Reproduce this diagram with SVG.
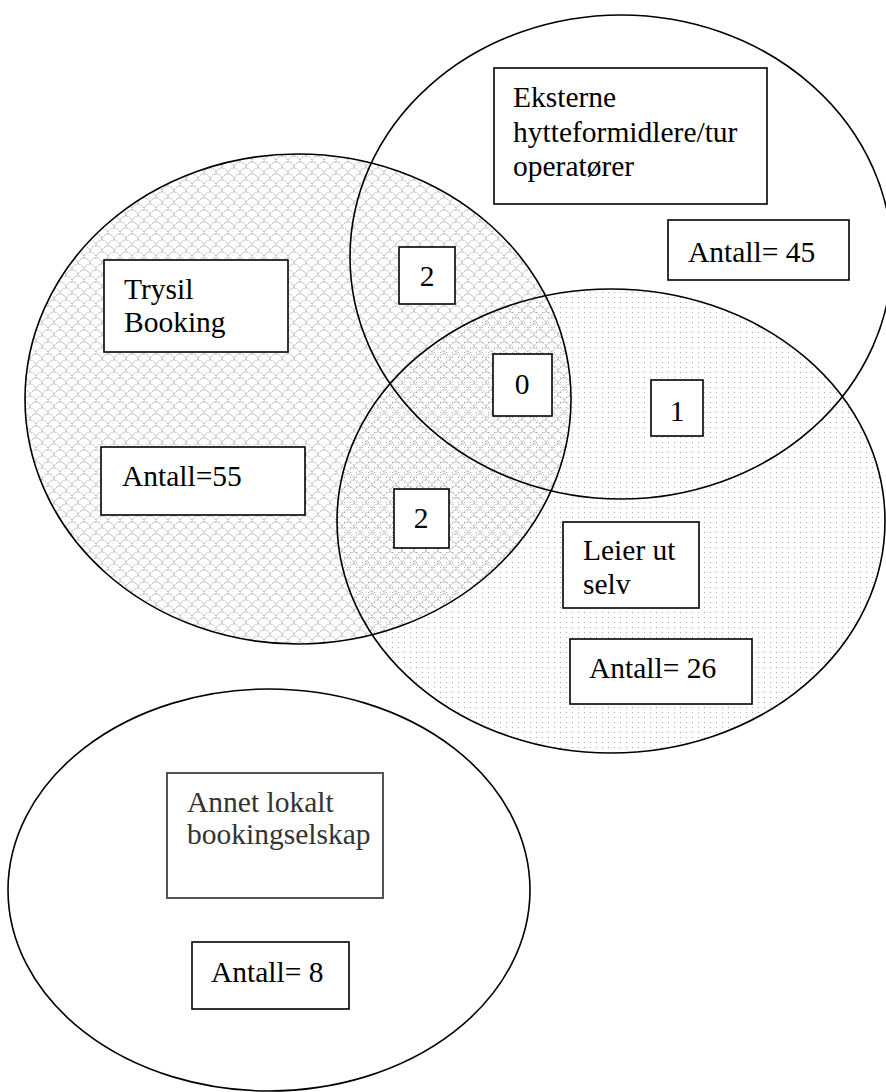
<svg xmlns="http://www.w3.org/2000/svg" width="886" height="1092" viewBox="0 0 886 1092">
<style>
.el{fill:none;stroke:#000;stroke-width:1.6}
.bx{fill:#fff;stroke:#000;stroke-width:1.6}
.t{font-family:"Liberation Serif","Times New Roman",serif;font-size:29.5px;fill:#000}
.tg{font-family:"Liberation Serif","Times New Roman",serif;font-size:29.5px;fill:#333}
</style>
<defs>
<pattern id="scales" width="12" height="12" patternUnits="userSpaceOnUse">
<path d="M0,6 A6,6 0 0 1 12,6 M-6,12 A6,6 0 0 1 6,12 M6,12 A6,6 0 0 1 18,12 M-6,0 A6,6 0 0 1 6,0 M6,0 A6,6 0 0 1 18,0" fill="none" stroke="#8f8f8f" stroke-width="0.8" stroke-dasharray="1.5,1"/>
</pattern>
<pattern id="dots" width="6" height="5" patternUnits="userSpaceOnUse">
<rect x="2" y="2" width="1" height="1" fill="#a8a8a8"/>
</pattern>
</defs>
<g id="circles">
<ellipse cx="611" cy="521" rx="274" ry="232" fill="url(#dots)"/>
<ellipse cx="298" cy="399" rx="273" ry="245" fill="url(#scales)"/>
<ellipse id="c-leier" class="el" cx="611" cy="521" rx="274" ry="232"/>
<ellipse id="c-trysil" class="el" cx="298" cy="399" rx="273" ry="245"/>
<ellipse id="c-eksterne" class="el" cx="621" cy="257" rx="271" ry="242"/>
<ellipse id="c-annet" class="el" cx="269" cy="890" rx="261" ry="201"/>
</g>
<g id="n-eksterne"><rect class="bx" x="494" y="68" width="273" height="136"/>
<text class="t" x="513" y="107">Eksterne</text><text class="t" x="513" y="142">hytteformidlere/tur</text><text class="t" x="513" y="176">operatører</text></g>
<g id="n-antall45"><rect class="bx" x="668" y="220" width="181" height="60"/><text class="t" x="688" y="262">Antall= 45</text></g>
<g id="n-trysil"><rect class="bx" x="104" y="260" width="184" height="92"/>
<text class="t" x="124" y="299">Trysil</text><text class="t" x="124" y="332">Booking</text></g>
<g id="n-two-top"><rect class="bx" x="399" y="247" width="56" height="57"/><text class="t" x="427" y="286" text-anchor="middle">2</text></g>
<g id="n-zero"><rect class="bx" x="493" y="354" width="59" height="62"/><text class="t" x="522" y="394" text-anchor="middle">0</text></g>
<g id="n-one"><rect class="bx" x="651" y="380" width="52" height="56"/><text class="t" x="677" y="421" text-anchor="middle">1</text></g>
<g id="n-antall55"><rect class="bx" x="101" y="447" width="204" height="68"/><text class="t" x="122" y="486">Antall=55</text></g>
<g id="n-two-low"><rect class="bx" x="394" y="489" width="55" height="59"/><text class="t" x="421" y="528" text-anchor="middle">2</text></g>
<g id="n-leier"><rect class="bx" x="563" y="522" width="136" height="86"/>
<text class="t" x="583" y="560">Leier ut</text><text class="t" x="583" y="594">selv</text></g>
<g id="n-antall26"><rect class="bx" x="570" y="639" width="182" height="65"/><text class="t" x="589" y="678">Antall= 26</text></g>
<g id="n-annet"><rect x="167" y="773" width="216" height="125" fill="#fff" stroke="#555" stroke-width="2"/>
<text class="tg" x="187" y="812">Annet lokalt</text><text class="tg" x="187" y="844">bookingselskap</text></g>
<g id="n-antall8"><rect class="bx" x="192" y="942" width="157" height="67"/><text class="t" x="211" y="982">Antall= 8</text></g>
</svg>
